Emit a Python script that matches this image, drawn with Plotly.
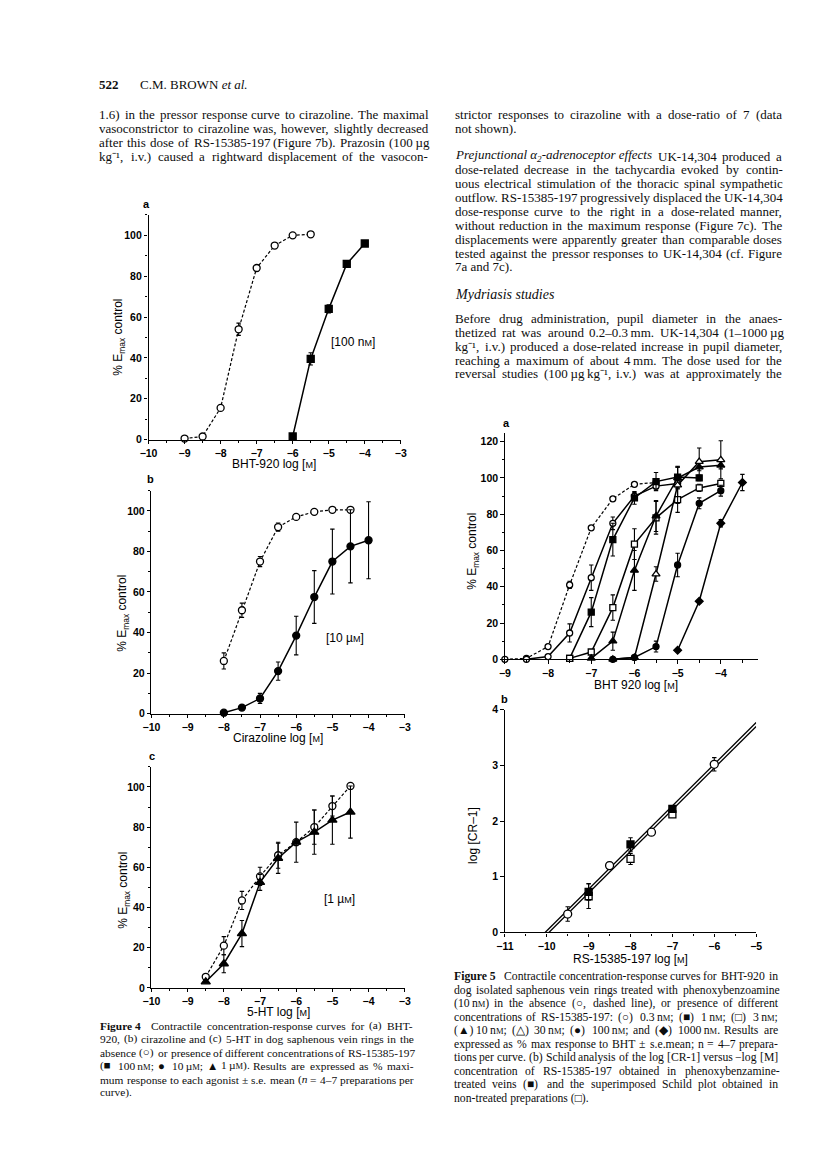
import re
import plotly.graph_objects as go

W, H = 816, 1163

# ---------------- DATA ----------------
# Figure 4a  BHT-920
f4a_ctrl_x = [-9, -8.5, -8, -7.5, -7, -6.5, -6, -5.5]
f4a_ctrl_y = [0.5, 1.5, 15.5, 54, 84, 95, 100, 100.5]
f4a_ctrl_e = [0, 0, 1, 3, 1.5, 0.5, 0, 0]
f4a_rs_x = [-6, -5.5, -5, -4.5, -4]
f4a_rs_y = [1.5, 39.5, 64, 86, 96]
f4a_rs_e = [0, 3, 2, 1, 1]

# Figure 4b  Cirazoline
f4b_ctrl_x = [-8, -7.5, -7, -6.5, -6, -5.5, -5, -4.5]
f4b_ctrl_y = [26, 51, 75, 92, 97, 99.5, 100.5, 100.5]
f4b_ctrl_e = [4, 3.5, 2.5, 2, 1, 0.5, 0.5, 0.5]
f4b_rs_x = [-8, -7.5, -7, -6.5, -6, -5.5, -5, -4.5, -4]
f4b_rs_y = [0.5, 3, 7.5, 21, 38.5, 57.5, 75, 82.5, 85.5]
f4b_rs_e = [0, 0.5, 2.5, 4.5, 9.5, 13, 16, 18, 19]

# Figure 4c  5-HT
f4c_ctrl_x = [-8.5, -8, -7.5, -7, -6.5, -6, -5.5, -5, -4.5]
f4c_ctrl_y = [5.5, 21, 43.5, 55.5, 66, 72.5, 80, 90.5, 100.5]
f4c_ctrl_e = [0, 4.5, 4.5, 4.5, 6.5, 0, 8.5, 5, 0.5]
f4c_rs_x = [-8.5, -8, -7.5, -7, -6.5, -6, -5.5, -5, -4.5]
f4c_rs_y = [3, 12, 27, 52.5, 64.5, 72.5, 77.5, 83.5, 87.5]
f4c_rs_e = [0.5, 4.5, 6.5, 4, 7.5, 10, 11, 12, 13]

# Figure 5a  BHT 920 with RS-15385-197
f5a_ctrl_x = [-9, -8.5, -8, -7.5, -7, -6.5, -6, -5.5]
f5a_ctrl_y = [0, 0.5, 7, 41, 72.5, 88.5, 96.5, 97.5]
f5a_ctrl_e = [0, 0, 0, 2, 1, 0.5, 0.5, 0]
f5a_c03_x = [-8.5, -8, -7.5, -7, -6.5, -6, -5.5, -5]
f5a_c03_y = [0, 1.5, 14.5, 45, 75, 90, 95.5, 97]
f5a_c03_e = [0, 0, 5, 7, 3.5, 2, 1.5, 1]
f5a_c1_x = [-7.5, -7, -6.5, -6, -5.5, -5, -4.5]
f5a_c1_y = [0.5, 26, 66, 89, 98, 100.5, 100]
f5a_c1_e = [0, 8, 9, 3.5, 5, 6, 1.5]
f5a_c3_x = [-7.5, -7, -6.5, -6, -5.5, -5, -4.5, -4]
f5a_c3_y = [0.5, 4, 28.5, 63.5, 78, 88, 94.5, 97]
f5a_c3_e = [0, 1, 7, 8.5, 9, 7, 2, 1]
f5a_c10_x = [-7, -6.5, -6, -5.5, -5, -4.5, -4]
f5a_c10_y = [0.5, 10, 49, 79, 100, 106, 107]
f5a_c10_e = [0, 5, 11, 8.5, 6, 2, 2]
f5a_c30_x = [-6.5, -6, -5.5, -5, -4.5, -4]
f5a_c30_y = [0, 1, 47, 96, 109, 110]
f5a_c30_e = [0, 0, 4, 10, 7.5, 10.5]
f5a_c100_x = [-6.5, -6, -5.5, -5, -4.5, -4]
f5a_c100_y = [0, 1, 7, 52, 86, 93]
f5a_c100_e = [0, 0, 3, 6.5, 3, 3]
f5a_c1000_x = [-5, -4.5, -4, -3.5]
f5a_c1000_y = [5, 32, 75, 97.5]
f5a_c1000_e = [0, 1, 2, 4.5]

# Figure 5b  Schild plot
f5b_pbz_x = [-9, -8, -7]
f5b_pbz_y = [0.73, 1.58, 2.22]
f5b_pbz_e = [0.15, 0.12, 0.03]
f5b_non_x = [-9, -8, -7]
f5b_non_y = [0.65, 1.32, 2.12]
f5b_non_e = [0.22, 0.1, 0.03]
f5b_both_x = [-9.5, -8.5, -7.5, -6]
f5b_both_y = [0.33, 1.2, 1.8, 3.02]
f5b_both_e = [0.13, 0.06, 0.05, 0.12]
f5b_fit1_x = [-10.04, -5.0]
f5b_fit1_y = [0.0, 3.77]
f5b_fit2_x = [-9.95, -5.0]
f5b_fit2_y = [0.0, 3.70]

# ---------------- TEXT ----------------
NM = "n<span style='font-size:8.5px'>M</span>"
UM = "µ<span style='font-size:8.5px'>M</span>"
header_num = "<b>522</b>"
header_auth = "C.M. BROWN <i>et al.</i>"
left_body = [
    "1.6) in the pressor response curve to cirazoline. The maximal",
    "vasoconstrictor to cirazoline was, however, slightly decreased",
    "after this dose of RS-15385-197 (Figure 7b). Prazosin (100\u2009µg",
    "kg⁻¹, i.v.) caused a rightward displacement of the vasocon-",
]
right_body_1 = [
    "strictor responses to cirazoline with a dose-ratio of 7 (data",
    "not shown).",
]
right_body_2 = [
    "<i>Prejunctional\u00a0α<sub>2</sub>-adrenoceptor\u00a0effects</i>\u2002 UK-14,304 produced a",
    "dose-related decrease in the tachycardia evoked by contin-",
    "uous electrical stimulation of the thoracic spinal sympathetic",
    "outflow. RS-15385-197 progressively displaced the UK-14,304",
    "dose-response curve to the right in a dose-related manner,",
    "without reduction in the maximum response (Figure 7c). The",
    "displacements were apparently greater than comparable doses",
    "tested against the pressor responses to UK-14,304 (cf. Figure",
    "7a and 7c).",
]
section_title = "<i>Mydriasis studies</i>"
right_body_3 = [
    "Before drug administration, pupil diameter in the anaes-",
    "thetized rat was around 0.2–0.3\u2009mm. UK-14,304 (1–1000\u2009µg",
    "kg⁻¹, i.v.) produced a dose-related increase in pupil diameter,",
    "reaching a maximum of about 4\u2009mm. The dose used for the",
    "reversal studies (100\u2009µg\u2009kg⁻¹, i.v.) was at approximately the",
]
fig4_caption = [
    "<b>Figure\u00a04</b>\u2002 Contractile concentration-response curves for (a) BHT-",
    "920, (b) cirazoline and (c) 5-HT in dog saphenous vein rings in the",
    "absence (○) or presence of different concentrations of RS-15385-197",
    f"(■ 100\u2009{NM}; ● 10\u2009{UM}; ▲ 1\u2009{UM}). Results are expressed as % maxi-",
    "mum response to each agonist ± s.e. mean (<i>n</i> = 4–7 preparations per",
    "curve).",
]
fig5_caption = [
    "<b>Figure\u00a05</b>\u2002 Contractile concentration-response curves for BHT-920 in",
    "dog isolated saphenous vein rings treated with phenoxybenzoamine",
    f"(10\u2009{NM}) in the absence (○, dashed line), or presence of different",
    f"concentrations of RS-15385-197: (○) 0.3\u2009{NM}; (■) 1\u2009{NM}; (□) 3\u2009{NM};",
    f"(▲) 10\u2009{NM}; (△) 30\u2009{NM}; (●) 100\u2009{NM}; and (◆) 1000\u2009{NM}. Results are",
    "expressed as % max response to BHT ± s.e.mean; n = 4–7 prepara-",
    "tions per curve. (b) Schild analysis of the log [CR-1] versus −log [M]",
    "concentration of RS-15385-197 obtained in phenoxybenzamine-",
    "treated veins (■) and the superimposed Schild plot obtained in",
    "non-treated preparations (□).",
]

# ---------------- HELPERS ----------------
def fx(x):
    return x / W


def fy(y):
    return 1 - y / H


SANS = "Liberation Sans, Arial, sans-serif"
SERIF = "Liberation Serif, Times New Roman, serif"
TICKFONT = dict(family=SANS, size=10.5, color="black", weight="bold")

# Times / Liberation Serif advance widths (1/1000 em)
_TW = {" ": 250, "\u00a0": 250, "!": 333, "%": 833, "(": 333, ")": 333, ",": 250, "-": 333,
       ".": 250, "/": 278, ":": 278, ";": 278, "=": 564, "[": 333, "]": 333, "±": 564,
       "µ": 500, "α": 550, "₂": 400, "⁻": 400, "¹": 300, "−": 564, "–": 500, "\u2002": 500,
       "\u2009": 200, "○": 800, "●": 800, "■": 800, "□": 800, "▲": 800, "△": 800, "◆": 800,
       "A": 722, "B": 667, "C": 667, "D": 722, "E": 611, "F": 556, "G": 722, "H": 722,
       "I": 333, "J": 389, "K": 722, "L": 611, "M": 889, "N": 722, "O": 722, "P": 556,
       "Q": 722, "R": 667, "S": 556, "T": 611, "U": 722, "V": 722, "W": 944, "X": 722,
       "Y": 722, "Z": 611, "a": 444, "b": 500, "c": 444, "d": 500, "e": 444, "f": 333,
       "g": 500, "h": 500, "i": 278, "j": 278, "k": 500, "l": 278, "m": 778, "n": 500,
       "o": 500, "p": 500, "q": 500, "r": 333, "s": 389, "t": 278, "u": 500, "v": 500,
       "w": 722, "x": 500, "y": 500, "z": 444}


def measure(html, size):
    total, stack, bold = 0.0, [1.0], False
    for tok in re.split(r"(<[^>]+>)", html):
        if not tok:
            continue
        if tok.startswith("<"):
            t = tok.lower()
            if t == "<b>":
                bold = True
            elif t == "</b>":
                bold = False
            elif t.startswith("<sup") or t.startswith("<sub"):
                stack.append(stack[-1] * 0.7)
            elif t.startswith("<span"):
                m = re.search(r"font-size:\s*([\d.]+)px", t)
                stack.append(float(m.group(1)) / size if m else stack[-1])
            elif t in ("</sup>", "</sub>", "</span>") and len(stack) > 1:
                stack.pop()
        else:
            for ch in tok:
                f = (1.05 if bold else 1.0)
                total += _TW.get(ch, 500) / 1000.0 * size * stack[-1] * f
    return total


def split_words(html):
    # split on plain spaces that are not inside a tag
    return [w for w in re.split(r" (?![^<]*>)", html) if w != ""]


fig = go.Figure()


def series(x, y, e, ax, symbol, filled, dashed=False, size=7, mode="lines+markers"):
    fig.add_trace(go.Scatter(
        x=x, y=y, mode=mode, xaxis="x" + ax, yaxis="y" + ax,
        cliponaxis=False, showlegend=False, hoverinfo="skip",
        line=dict(color="black", width=1.2 if dashed else 1.5,
                  dash="3px,2px" if dashed else "solid"),
        marker=dict(symbol=symbol, size=size,
                    color="black" if filled else "white",
                    line=dict(color="black", width=1.3)),
        error_y=dict(type="data", array=e, color="black",
                     thickness=1.1, width=2.2),
    ))


# Figure 4a
series(f4a_ctrl_x, f4a_ctrl_y, f4a_ctrl_e, "", "circle", False, dashed=True)
series(f4a_rs_x, f4a_rs_y, f4a_rs_e, "", "square", True)
# Figure 4b
series(f4b_ctrl_x, f4b_ctrl_y, f4b_ctrl_e, "2", "circle", False, dashed=True)
series(f4b_rs_x, f4b_rs_y, f4b_rs_e, "2", "circle", True)
# Figure 4c
series(f4c_ctrl_x, f4c_ctrl_y, f4c_ctrl_e, "3", "circle", False, dashed=True)
series(f4c_rs_x, f4c_rs_y, f4c_rs_e, "3", "triangle-up", True, size=8)
# Figure 5a
series(f5a_ctrl_x, f5a_ctrl_y, f5a_ctrl_e, "4", "circle", False, dashed=True, size=6)
series(f5a_c03_x, f5a_c03_y, f5a_c03_e, "4", "circle", False, size=6)
series(f5a_c1_x, f5a_c1_y, f5a_c1_e, "4", "square", True, size=6)
series(f5a_c3_x, f5a_c3_y, f5a_c3_e, "4", "square", False, size=6)
series(f5a_c10_x, f5a_c10_y, f5a_c10_e, "4", "triangle-up", True, size=7)
series(f5a_c30_x, f5a_c30_y, f5a_c30_e, "4", "triangle-up", False, size=7)
series(f5a_c100_x, f5a_c100_y, f5a_c100_e, "4", "circle", True, size=6)
series(f5a_c1000_x, f5a_c1000_y, f5a_c1000_e, "4", "diamond", True, size=6)
# Figure 5b
for fxs, fys in ((f5b_fit1_x, f5b_fit1_y), (f5b_fit2_x, f5b_fit2_y)):
    fig.add_trace(go.Scatter(x=fxs, y=fys, mode="lines", xaxis="x5", yaxis="y5",
                             cliponaxis=False, showlegend=False, hoverinfo="skip",
                             line=dict(color="black", width=1.3)))
series(f5b_non_x, f5b_non_y, f5b_non_e, "5", "square", False, size=7, mode="markers")
series(f5b_pbz_x, f5b_pbz_y, f5b_pbz_e, "5", "square", True, size=7, mode="markers")
series(f5b_both_x, f5b_both_y, f5b_both_e, "5", "circle", False, size=8, mode="markers")


def xcfg(x0, x1, rng, anchor, dtick=1, minor=0.5):
    return dict(domain=[fx(x0), fx(x1)], range=rng, anchor=anchor,
                showline=True, linecolor="black", linewidth=1.3,
                ticks="outside", ticklen=3.5, tickwidth=1.2, tickcolor="black",
                tick0=0, dtick=dtick, showgrid=False, zeroline=False,
                tickfont=TICKFONT, fixedrange=True,
                minor=dict(ticks="outside", ticklen=2.2, tickwidth=1,
                           tickcolor="black", dtick=minor, tick0=0, showgrid=False))


def ycfg(y0, y1, rng, anchor, dtick, minor=None):
    d = dict(domain=[fy(y0), fy(y1)], range=rng, anchor=anchor,
             showline=True, linecolor="black", linewidth=1.3,
             ticks="outside", ticklen=3.5, tickwidth=1.2, tickcolor="black",
             tick0=0, dtick=dtick, showgrid=False, zeroline=False,
             tickfont=TICKFONT, fixedrange=True)
    if minor:
        d["minor"] = dict(ticks="outside", ticklen=2.2, tickwidth=1,
                          tickcolor="black", dtick=minor, tick0=0, showgrid=False)
    return d


fig.update_layout(
    width=W, height=H, margin=dict(l=0, r=0, t=0, b=0),
    paper_bgcolor="white", plot_bgcolor="rgba(0,0,0,0)", showlegend=False,
    xaxis=xcfg(134, 391, [-10, -3], "y"),
    yaxis=ycfg(430, 203, [0, 110], "x", 20, 10),
    xaxis2=xcfg(137, 395, [-10, -3], "y2"),
    yaxis2=ycfg(707, 481.5, [0, 110], "x2", 20, 10),
    xaxis3=xcfg(137, 395, [-10, -3], "y3"),
    yaxis3=ycfg(984, 760.7, [0, 110], "x3", 20, 10),
    xaxis4=xcfg(497, 755, [-9, -3.136], "y4"),
    yaxis4=ycfg(652, 423, [0, 125], "x4", 20, 10),
    xaxis5=xcfg(497, 753, [-11, -5], "y5"),
    yaxis5=ycfg(928, 703, [0, 4], "x5", 1),
)

ann = []


def word(x, yc, t, size, family=SERIF, color="#0d0d0d"):
    ann.append(dict(x=fx(x), y=fy(yc + 0.553 * size), xref="paper", yref="paper", text=t,
                    showarrow=False, xanchor="left", yanchor="bottom",
                    borderpad=0, borderwidth=0,
                    font=dict(family=family, size=size, color=color)))


def line(x0, width, yc, html, size, justify):
    if not justify:
        word(x0, yc, html, size)
        return
    words = split_words(html)
    ws = [measure(w, size) for w in words]
    gap = (width - sum(ws)) / max(len(words) - 1, 1)
    gap = max(gap, 0.2 * size)
    x = x0
    for w, wd in zip(words, ws):
        word(x, yc, w, size)
        x += wd + gap


def paragraph(lines, x0, width, y0, step, size, last_justified=False):
    for i, s in enumerate(lines):
        just = (i < len(lines) - 1) or last_justified
        line(x0, width, y0 + step * i, s, size, just)


def label(x, y, t, size=12, xanchor="center", angle=0, bold=False):
    ann.append(dict(x=fx(x), y=fy(y), xref="paper", yref="paper", text=t,
                    showarrow=False, xanchor=xanchor, yanchor="middle",
                    textangle=angle,
                    font=dict(family=SANS, size=size, color="black",
                              weight="bold" if bold else "normal")))


BODY = 13
# Header & body text
word(84, 72, header_num, BODY)
word(125, 72, header_auth, BODY)
paragraph(left_body, 84, 334, 102, 14, BODY, last_justified=True)
paragraph(right_body_1, 446, 333, 102, 14, BODY)
paragraph(right_body_2, 446, 333, 144, 14, BODY)
word(446, 283, section_title, 14)
paragraph(right_body_3, 446, 333, 308, 14, BODY, last_justified=True)
paragraph(fig4_caption, 85, 319, 1022, 13.6, 11.4)
paragraph(fig5_caption, 445, 330, 973, 13.6, 11.7)

# Axis titles
M_SMALL = "<span style='font-size:9px'>M</span>"
ytitle = "% E<sub>max</sub> control"
label(262, 455, "BHT-920 log [" + M_SMALL + "]")
label(266, 732, "Cirazoline log [" + M_SMALL + "]")
label(266, 1008, "5-HT log [" + M_SMALL + "]")
label(104, 327, ytitle, angle=-90)
label(108, 606, ytitle, angle=-90)
label(109, 885, ytitle, angle=-90)
label(631, 678, "BHT 920 log [" + M_SMALL + "]")
label(465, 543, ytitle, angle=-90)
label(625, 955, "RS-15385-197 log [" + M_SMALL + "]")
label(465, 830, "log [CR–1]", angle=-90)

# Panel letters
for (x, y, t) in ((132, 192, "a"), (136, 470, "b"), (138, 750, "c"), (499, 413, "a"), (497, 692, "b")):
    label(x, y, t, size=11, bold=True)

# In-plot concentration labels (data coordinates)
for ax, xv, yv, t in (("", -4.33, 48, "[100 n" + M_SMALL + "]"),
                      ("2", -4.66, 37.5, "[10 µ" + M_SMALL + "]"),
                      ("3", -4.8, 44, "[1 µ" + M_SMALL + "]")):
    ann.append(dict(x=xv, y=yv, xref="x" + ax, yref="y" + ax, text=t, showarrow=False,
                    font=dict(family=SANS, size=12, color="black")))

fig.update_layout(annotations=ann)
fig.write_html("out.html")
